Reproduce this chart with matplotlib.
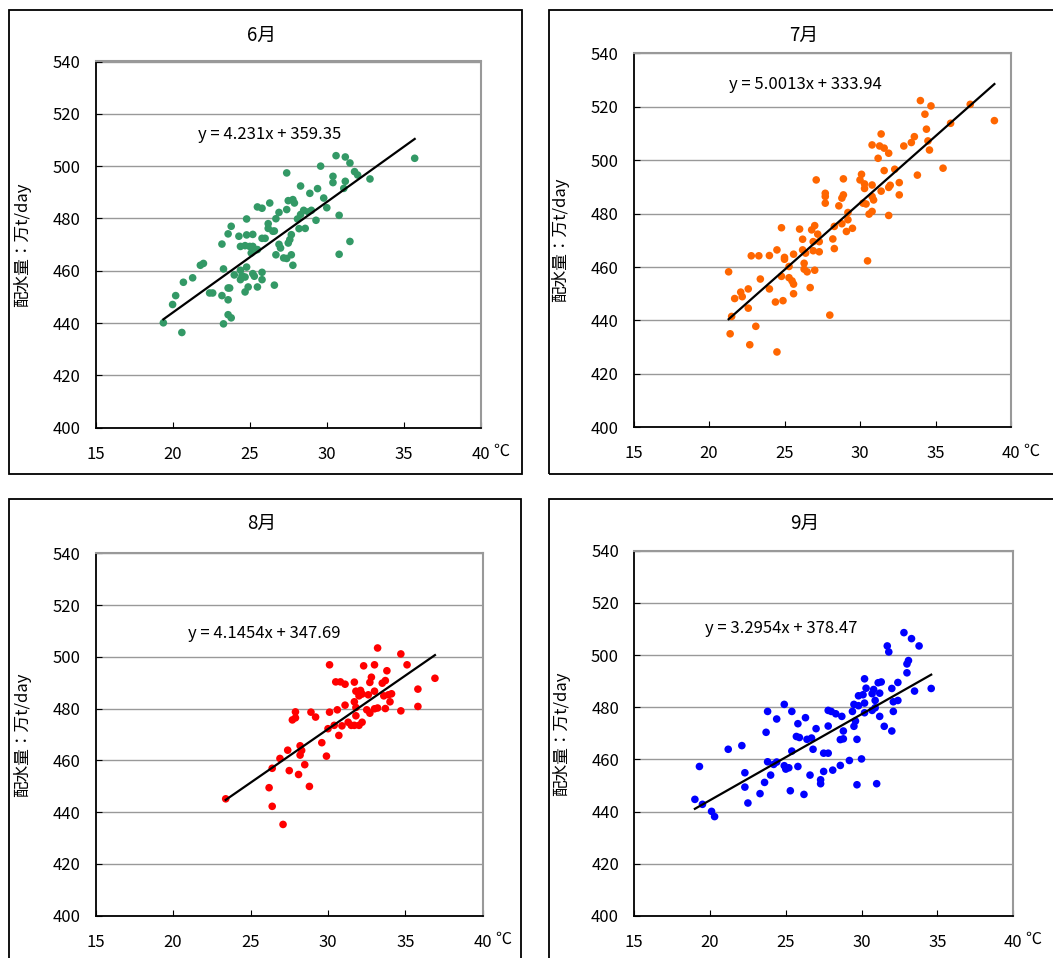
import numpy as np
import matplotlib.pyplot as plt
from matplotlib.patches import Rectangle

plt.rcParams['font.family'] = ['Noto Sans CJK JP', 'DejaVu Sans']

# 6月: 気温 (℃) と 配水量 (万t/day)
jun_temp = [19.4, 20.6, 20.0, 20.2, 20.7, 21.3, 21.8, 22.0, 22.4, 22.6,
            23.2, 23.3, 23.2, 23.6, 23.3, 23.6, 23.8, 23.6, 23.7, 23.6,
            23.8, 24.0, 24.3, 24.4, 24.4, 24.4, 24.5, 24.7, 24.8, 24.8,
            24.8, 24.7, 24.7, 24.9, 25.0, 25.1, 25.2, 25.2, 25.2, 25.3,
            25.5, 25.5, 25.5, 25.8, 25.8, 25.8, 25.8, 26.0, 26.2, 26.2,
            26.3, 26.5, 26.6, 26.7, 26.6, 26.7, 26.9, 26.9, 27.0, 27.2,
            27.4, 27.4, 27.4, 27.5, 27.5, 27.6, 27.7, 27.7, 27.8, 27.9,
            27.8, 28.1, 28.2, 28.3, 28.3, 28.5, 28.6, 28.8, 28.9, 29.0,
            29.3, 29.4, 29.6, 29.8, 30.0, 30.4, 30.4, 30.6, 30.8, 30.8,
            31.1, 31.2, 31.2, 31.5, 31.5, 31.8, 32.0, 32.8, 35.7]
jun_water = [440.1, 436.4, 447.1, 450.5, 455.6, 457.3, 462.1, 462.8, 451.5, 451.5,
             470.2, 460.7, 450.5, 448.9, 439.7, 443.2, 442.0, 453.4, 453.4, 474.1,
             477.0, 458.4, 473.2, 469.3, 460.2, 456.6, 458.1, 469.6, 479.8, 473.7,
             461.4, 457.6, 451.9, 453.8, 469.3, 466.8, 473.9, 469.3, 458.9, 457.9,
             468.1, 484.4, 453.8, 459.4, 456.6, 483.9, 472.4, 472.4, 478.0, 476.2,
             485.9, 475.1, 475.2, 466.1, 454.5, 479.9, 482.3, 470.1, 468.7, 464.9,
             483.4, 464.7, 497.4, 470.6, 486.8, 471.9, 473.8, 466.1, 487.2, 485.9,
             462.1, 479.8, 476.1, 492.4, 481.5, 483.1, 476.2, 482.5, 489.6, 483.1,
             479.3, 491.4, 500.0, 487.8, 484.1, 496.1, 493.7, 504.0, 481.2, 466.3,
             491.5, 503.5, 494.2, 501.2, 471.2, 497.9, 496.6, 495.1, 503.0]

# 7月
jul_temp = [21.3, 21.5, 21.4, 21.7, 22.1, 22.2, 22.6, 22.6, 22.7, 22.8,
            23.1, 23.3, 23.4, 24.0, 24.0, 24.4, 24.5, 24.5, 24.8, 24.8,
            24.9, 25.0, 25.0, 25.3, 25.3, 25.5, 25.6, 25.6, 25.6, 26.0,
            26.2, 26.2, 26.3, 26.3, 26.4, 26.5, 26.7, 26.8, 27.0, 26.9,
            26.9, 27.0, 27.1, 27.2, 27.3, 27.3, 27.7, 27.7, 27.7, 28.0,
            28.2, 28.3, 28.3, 28.6, 28.8, 28.9, 28.9, 28.8, 29.1, 29.2,
            29.2, 29.5, 30.0, 30.1, 30.3, 30.3, 30.2, 30.4, 30.5, 30.6,
            30.8, 30.8, 30.8, 30.8, 30.9, 31.2, 31.3, 31.4, 31.4, 31.6,
            31.6, 31.9, 31.9, 31.9, 32.0, 32.3, 32.6, 32.6, 32.9, 33.4,
            33.6, 33.8, 34.0, 34.3, 34.4, 34.5, 34.6, 34.7, 35.5, 36.0,
            37.3, 38.9]
jul_water = [458.2, 441.5, 435.0, 448.2, 450.6, 448.9, 451.8, 444.6, 430.9, 464.2,
             437.8, 464.2, 455.5, 464.3, 451.8, 446.9, 428.2, 466.4, 456.5, 474.7,
             447.4, 463.6, 462.9, 460.2, 456.0, 454.8, 453.6, 450.0, 464.8, 474.2,
             466.4, 470.4, 461.4, 459.2, 465.2, 458.2, 452.3, 473.9, 475.5, 469.5,
             466.1, 458.8, 492.6, 472.3, 469.5, 465.7, 487.6, 486.4, 483.9, 442.0,
             470.5, 475.2, 466.9, 482.9, 485.8, 487.0, 493.0, 476.2, 473.3, 477.7,
             480.4, 474.5, 492.6, 494.7, 489.4, 491.1, 483.9, 483.6, 462.3, 479.8,
             490.7, 480.8, 505.7, 486.4, 485.1, 500.7, 505.3, 509.8, 488.4, 504.5,
             496.1, 502.6, 489.8, 479.3, 490.6, 496.6, 491.6, 487.0, 505.3, 506.6,
             508.8, 494.4, 522.3, 517.2, 511.6, 507.2, 503.8, 520.3, 497.0, 513.8,
             520.9, 514.8]

# 8月
aug_temp = [23.4, 26.2, 26.4, 26.4, 27.1, 26.9, 27.4, 27.5, 27.7, 27.9,
            27.9, 28.1, 28.2, 28.2, 28.3, 28.5, 28.8, 28.9, 29.2, 29.6,
            29.9, 30.0, 30.1, 30.1, 30.4, 30.5, 30.6, 30.7, 30.8, 30.9,
            31.1, 31.1, 31.3, 31.5, 31.7, 31.7, 31.8, 31.7, 31.8, 31.8,
            32.0, 32.0, 32.1, 32.2, 32.2, 32.3, 32.5, 32.6, 32.7, 32.7,
            32.8, 33.0, 33.0, 33.0, 33.2, 33.2, 33.5, 33.6, 33.7, 33.7,
            33.8, 33.9, 34.0, 34.1, 34.7, 34.7, 35.1, 35.8, 35.8, 36.9]
aug_water = [445.1, 449.4, 442.2, 456.9, 435.2, 460.7, 463.9, 456.0, 475.6, 476.4,
             478.7, 454.5, 465.6, 462.0, 463.8, 458.3, 449.9, 478.6, 476.7, 466.8,
             461.6, 472.2, 496.9, 478.6, 473.5, 490.3, 479.5, 469.6, 490.3, 473.3,
             489.4, 481.3, 474.7, 473.5, 490.2, 482.6, 480.4, 473.5, 477.2, 486.7,
             484.9, 473.5, 487.0, 474.7, 485.6, 496.5, 479.5, 485.3, 490.1, 478.2,
             492.1, 496.9, 486.7, 479.9, 503.4, 480.2, 489.8, 484.9, 490.8, 480.0,
             494.6, 485.3, 482.6, 485.7, 501.1, 479.1, 496.9, 487.5, 480.8, 491.7]

# 9月
sep_temp = [19.0, 19.3, 19.5, 20.1, 20.3, 21.2, 22.1, 22.3, 22.3, 22.5,
            23.3, 23.6, 23.7, 23.8, 23.8, 24.0, 24.2, 24.4, 24.4, 24.9,
            24.9, 25.0, 25.2, 25.3, 25.4, 25.4, 25.7, 25.8, 25.8, 25.9,
            26.2, 26.3, 26.4, 26.6, 26.7, 26.8, 27.0, 27.3, 27.3, 27.5,
            27.5, 27.8, 27.8, 27.8, 28.0, 28.1, 28.3, 28.6, 28.6, 28.7,
            28.8, 28.8, 29.2, 29.4, 29.5, 29.5, 29.6, 29.7, 29.7, 29.8,
            29.8, 30.0, 30.1, 30.2, 30.2, 30.2, 30.3, 30.7, 30.7, 30.8,
            30.9, 30.9, 31.0, 31.1, 31.2, 31.2, 31.3, 31.5, 31.7, 31.8,
            32.0, 32.0, 32.1, 32.1, 32.4, 32.4, 32.8, 33.0, 33.0, 33.1,
            33.3, 33.5, 33.8, 34.6]
sep_water = [444.7, 457.3, 442.8, 440.1, 438.1, 463.9, 465.3, 454.9, 449.4, 443.3,
             446.9, 451.2, 470.4, 478.4, 459.1, 454.0, 458.1, 459.0, 475.5, 481.1,
             457.6, 456.3, 456.8, 448.0, 478.4, 463.2, 468.8, 473.7, 457.3, 468.4,
             446.6, 476.0, 467.7, 454.0, 468.2, 463.9, 471.8, 452.2, 450.7, 455.4,
             462.4, 462.4, 478.8, 472.8, 478.4, 455.9, 477.5, 457.7, 467.6, 476.5,
             470.9, 467.9, 459.6, 478.4, 481.1, 472.7, 474.7, 467.7, 450.3, 480.6,
             484.4, 460.2, 484.8, 490.9, 481.6, 477.9, 487.3, 485.2, 478.8, 486.8,
             482.6, 479.8, 450.7, 489.4, 485.4, 476.5, 489.7, 472.7, 503.5, 501.2,
             487.2, 470.9, 478.4, 482.1, 482.6, 489.5, 508.6, 496.6, 493.2, 497.9,
             506.3, 486.2, 503.5, 487.2]

# 近似直線 y = a x + b
slopes = [4.231, 5.0013, 4.1454, 3.2954]
intercepts = [359.35, 333.94, 347.69, 378.47]
eq_labels = ['y = 4.231x + 359.35', 'y = 5.0013x + 333.94',
             'y = 4.1454x + 347.69', 'y = 3.2954x + 378.47']

months = ['6月', '7月', '8月', '9月']
temps = [jun_temp, jul_temp, aug_temp, sep_temp]
waters = [jun_water, jul_water, aug_water, sep_water]
colors = ['#339966', '#FF6600', '#FF0000', '#0000FF']

x_ticks = [15, 20, 25, 30, 35, 40]
y_ticks = [400, 420, 440, 460, 480, 500, 520, 540]

# レイアウト (ピクセル): left, top, right, bottom
W, H = 1053, 958
frames = [(9, 10, 522, 474), (549, 10, 1070, 474), (9, 499, 521, 990), (549, 499, 1070, 990)]
boxes = [(95.5, 61.5, 481, 427.7), (633.5, 53.3, 1011, 427.3),
         (95.5, 553.3, 483, 915.5), (634.3, 550.7, 1013, 916)]
title_pos = [(262, 35), (804, 35), (262, 523), (805, 523)]
eq_pos = [(26.3, 512.1), (26.4, 528.2), (25.9, 508.9), (24.7, 510.0)]

fig = plt.figure(figsize=(W / 100, H / 100), dpi=100)

for i in range(4):
    # 枠
    fl, ft, fr, fb = frames[i]
    fig.patches.append(Rectangle((fl / W, 1 - fb / H), (fr - fl) / W, (fb - ft) / H,
                                 transform=fig.transFigure, fill=False,
                                 edgecolor='black', linewidth=1.3))

    l, t, r, b = boxes[i]
    ax = fig.add_axes([l / W, 1 - b / H, (r - l) / W, (b - t) / H])

    ax.scatter(temps[i], waters[i], s=30, color=colors[i], edgecolors='none', zorder=3)

    # 近似直線
    xs = np.array([min(temps[i]), max(temps[i])])
    ax.plot(xs, slopes[i] * xs + intercepts[i], color='black', linewidth=1.6, zorder=4)
    ax.text(eq_pos[i][0], eq_pos[i][1], eq_labels[i], ha='center', va='center', fontsize=12)

    ax.set_xlim(15, 40)
    ax.set_ylim(400, 540)
    ax.set_xticks(x_ticks)
    ax.set_yticks(y_ticks)
    ax.tick_params(direction='in', length=4, labelsize=12, colors='black')
    ax.tick_params(axis='x', pad=13)
    ax.tick_params(axis='y', pad=11)
    ax.grid(axis='y', color='#999999', linewidth=1.0)
    ax.set_axisbelow(True)
    for side in ['left', 'bottom']:
        ax.spines[side].set_color('black')
        ax.spines[side].set_linewidth(1.3)
    for side in ['top', 'right']:
        ax.spines[side].set_color('#999999')
        ax.spines[side].set_linewidth(1.5)

    ax.set_ylabel('配水量：万t/day', fontsize=12, labelpad=15)
    ax.annotate('℃', xy=(1, 0), xycoords='axes fraction', xytext=(14.5, -17),
                textcoords='offset points', ha='center', va='center', fontsize=11.5)

    fig.text(title_pos[i][0] / W, 1 - title_pos[i][1] / H, months[i],
             ha='center', va='center', fontsize=13.5)

fig.savefig('out.png', dpi=100)
